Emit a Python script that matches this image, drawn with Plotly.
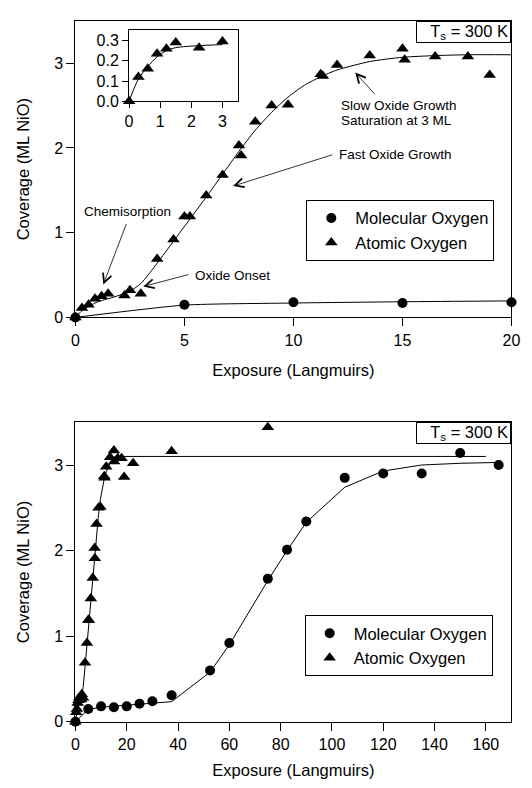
import plotly.graph_objects as go

# ---------------- data ----------------
# Atomic oxygen (triangles), exposure in Langmuirs, coverage in ML NiO
atom_x = [0, 0.3, 0.6, 0.9, 1.2, 1.5, 2.25, 2.5, 3.0, 3.75, 4.5, 5.0, 5.25, 6.0, 6.75,
          7.5, 7.6, 8.25, 9.0, 9.75, 11.25, 11.35, 12.0, 13.5, 15.0, 15.1, 16.5, 18.0, 19.0,
          22.5, 37.5, 75.0]
atom_y = [0, 0.11, 0.15, 0.22, 0.25, 0.28, 0.26, 0.32, 0.28, 0.69, 0.92, 1.19, 1.19, 1.44, 1.68,
          2.03, 1.91, 2.31, 2.50, 2.51, 2.87, 2.85, 2.98, 3.09, 3.17, 3.04, 3.08, 3.08, 2.86,
          3.02, 3.16, 3.44]

# Fit curve through atomic-oxygen data
atom_fit_x = [0, 0.3, 0.6, 0.9, 1.2, 1.5, 2.0, 2.5, 3.0, 3.75, 4.5, 5.25, 6.0, 6.75, 7.5,
              8.25, 9.0, 9.75, 10.5, 11.25, 12.0, 13.5, 15.0, 16.5, 18.0, 20.0, 160.0]
atom_fit_y = [0, 0.08, 0.13, 0.17, 0.20, 0.22, 0.26, 0.31, 0.40, 0.64, 0.90, 1.16, 1.42, 1.69, 1.96,
              2.21, 2.42, 2.60, 2.74, 2.84, 2.92, 3.02, 3.07, 3.09, 3.10, 3.10, 3.10]

# Molecular oxygen (circles)
mol_x = [0, 5, 10, 15, 20, 25, 30, 37.5, 52.5, 60, 75, 82.5, 90, 105, 120, 135, 150, 165]
mol_y = [0, 0.15, 0.18, 0.17, 0.18, 0.21, 0.24, 0.31, 0.60, 0.92, 1.67, 2.01, 2.34, 2.85,
         2.90, 2.90, 3.14, 3.00]

mol_fit_x = [0, 5, 10, 15, 20, 25, 30, 37.5, 52.5, 60, 75, 82.5, 90, 105, 120, 135, 150, 165]
mol_fit_y = [0, 0.145, 0.17, 0.185, 0.195, 0.205, 0.22, 0.235, 0.58, 0.90, 1.65, 2.00, 2.33, 2.74,
             2.93, 3.00, 3.02, 3.03]

# Inset: low-exposure atomic oxygen
inset_x = [0, 0.3, 0.6, 0.9, 1.2, 1.5, 2.25, 3.0]
inset_y = [0, 0.12, 0.16, 0.235, 0.26, 0.29, 0.265, 0.295]
inset_fit_y = [0, 0.11, 0.17, 0.22, 0.25, 0.265, 0.275, 0.28]

top_x_ticks = [0, 5, 10, 15, 20]
bot_x_ticks = [0, 20, 40, 60, 80, 100, 120, 140, 160]
y_ticks = [0, 1, 2, 3]
inset_x_ticks = [0, 1, 2, 3]
inset_y_ticks = [0.0, 0.1, 0.2, 0.3]

# ---------------- figure ----------------
FONT = "Liberation Sans, Arial, sans-serif"
W, H = 532, 788


def px_x(p):
    return p / W


def px_y(p):
    return 1 - p / H


def sub(xs, ys, xmax):
    pts = [(a, b) for a, b in zip(xs, ys) if a <= xmax]
    return [p[0] for p in pts], [p[1] for p in pts]


fig = go.Figure()
line_style = dict(color="black", width=1)
tri = dict(symbol="triangle-up", size=11, color="black")
circ = dict(symbol="circle", size=10, color="black")

# ---- top panel ----
tx, ty = sub(atom_fit_x, atom_fit_y, 20)
fig.add_trace(go.Scatter(x=tx, y=ty, mode="lines", line=dict(shape="spline", smoothing=0.6, **line_style),
                         showlegend=False, hoverinfo="skip", xaxis="x", yaxis="y"))
mx, my = sub(mol_fit_x, mol_fit_y, 20)
fig.add_trace(go.Scatter(x=mx, y=my, mode="lines", line=dict(shape="spline", smoothing=0.6, **line_style),
                         showlegend=False, hoverinfo="skip", xaxis="x", yaxis="y"))
ax_, ay_ = sub(atom_x, atom_y, 20)
fig.add_trace(go.Scatter(x=ax_, y=ay_, mode="markers", marker=tri, name="Atomic Oxygen",
                         legendrank=2, legend="legend", cliponaxis=False, xaxis="x", yaxis="y"))
px_, py_ = sub(mol_x, mol_y, 20)
fig.add_trace(go.Scatter(x=px_, y=py_, mode="markers", marker=circ, name="Molecular Oxygen",
                         legendrank=1, legend="legend", cliponaxis=False, xaxis="x", yaxis="y"))

# ---- inset ----
fig.add_trace(go.Scatter(x=inset_x, y=inset_fit_y, mode="lines",
                         line=dict(shape="spline", smoothing=0.8, **line_style),
                         showlegend=False, hoverinfo="skip", xaxis="x2", yaxis="y2"))
fig.add_trace(go.Scatter(x=inset_x, y=inset_y, mode="markers", marker=tri, showlegend=False,
                         cliponaxis=False, xaxis="x2", yaxis="y2"))

# ---- bottom panel ----
fig.add_trace(go.Scatter(x=atom_fit_x, y=atom_fit_y, mode="lines", line=line_style,
                         showlegend=False, hoverinfo="skip", xaxis="x3", yaxis="y3"))
fig.add_trace(go.Scatter(x=mol_fit_x, y=mol_fit_y, mode="lines", line=line_style,
                         showlegend=False, hoverinfo="skip", xaxis="x3", yaxis="y3"))
fig.add_trace(go.Scatter(x=atom_x, y=atom_y, mode="markers", marker=tri, name="Atomic Oxygen",
                         legendrank=2, legend="legend2", cliponaxis=False, xaxis="x3", yaxis="y3"))
fig.add_trace(go.Scatter(x=mol_x, y=mol_y, mode="markers", marker=circ, name="Molecular Oxygen",
                         legendrank=1, legend="legend2", cliponaxis=False, xaxis="x3", yaxis="y3"))

X0, X1 = px_x(65), px_x(512)
axis_common = dict(showline=True, linecolor="black", linewidth=1, mirror=True, ticks="outside",
                   ticklen=8, tickcolor="black", tickwidth=1, showgrid=False, zeroline=False,
                   tickfont=dict(family=FONT, size=16, color="black"))
title_font = dict(family=FONT, size=16.5, color="black")

fig.update_layout(
    width=W, height=H, margin=dict(l=0, r=0, t=0, b=0),
    paper_bgcolor="white", plot_bgcolor="white",
    font=dict(family=FONT, size=16, color="black"),
    xaxis=dict(domain=[X0, X1], range=[0, 20], tickvals=top_x_ticks, anchor="y",
               title=dict(text="Exposure (Langmuirs)", font=title_font, standoff=16), **axis_common),
    yaxis=dict(domain=[px_y(313), px_y(13)], range=[0, 3.5], tickvals=y_ticks, anchor="x",
               title=dict(text="Coverage (ML NiO)", font=title_font, standoff=20), **axis_common),
    xaxis2=dict(domain=[px_x(120), px_x(231.7)], range=[0, 3.5], tickvals=inset_x_ticks, anchor="y2",
                **{**axis_common, "ticklen": 6}),
    yaxis2=dict(domain=[px_y(94.3), px_y(22.7)], range=[0, 0.35], tickvals=inset_y_ticks,
                tickformat=".1f", anchor="x2", **{**axis_common, "ticklen": 6}),
    xaxis3=dict(domain=[X0, X1], range=[0, 170], tickvals=bot_x_ticks, anchor="y3",
                title=dict(text="Exposure (Langmuirs)", font=title_font, standoff=12), **axis_common),
    yaxis3=dict(domain=[px_y(722), px_y(419)], range=[0, 3.5], tickvals=y_ticks, anchor="x3",
                title=dict(text="Coverage (ML NiO)", font=title_font, standoff=20), **axis_common),
    legend=dict(x=px_x(301.7), y=px_y(194), xanchor="left", yanchor="top",
                bordercolor="black", borderwidth=1, bgcolor="white", itemwidth=38,
                font=dict(family=FONT, size=16.5, color="black"), traceorder="normal"),
    legend2=dict(x=px_x(300), y=px_y(614), xanchor="left", yanchor="top",
                 bordercolor="black", borderwidth=1, bgcolor="white", itemwidth=38,
                 font=dict(family=FONT, size=16.5, color="black"), traceorder="normal"),
    showlegend=True,
)

ann_font = dict(family=FONT, size=13.5, color="black")
ts_common = dict(text="T<sub>s</sub> = 300 K", showarrow=False, xref="paper", yref="paper",
                 xanchor="right", yanchor="top", bordercolor="black", borderwidth=1,
                 borderpad=2, bgcolor="white", width=89, height=16, align="right",
                 font=dict(family=FONT, size=16.5, color="black"))
fig.add_annotation(x=X1, y=px_y(13), **ts_common)
fig.add_annotation(x=X1, y=px_y(419), **ts_common)

# text labels (top panel)
labels = [
    ("Slow Oxide Growth", 12.08, 2.505, "left"),
    ("Saturation at 3 ML", 12.08, 2.325, "left"),
    ("Fast Oxide Growth", 12.0, 1.925, "left"),
    ("Chemisorption", 2.39, 1.25, "center"),
    ("Oxide Onset", 5.38, 0.494, "left"),
]
for t, x, y, anc in labels:
    fig.add_annotation(text=t, x=x, y=y, xref="x", yref="y", showarrow=False,
                       xanchor=anc, yanchor="middle", font=ann_font)

# arrows (head, tail) in data coords
arrows = [
    ((12.83, 2.89), (13.78, 2.62)),
    ((7.23, 1.55), (11.85, 1.925)),
    ((1.28, 0.39), (2.36, 1.12)),
    ((3.11, 0.365), (5.25, 0.51)),
]
for (hx, hy), (tx_, ty_) in arrows:
    fig.add_annotation(x=hx, y=hy, ax=tx_, ay=ty_, xref="x", yref="y", axref="x", ayref="y",
                       text="", showarrow=True, arrowhead=5, arrowsize=2.2, arrowwidth=0.8,
                       arrowcolor="black", standoff=0, startstandoff=0)

fig.write_html("out.html")
